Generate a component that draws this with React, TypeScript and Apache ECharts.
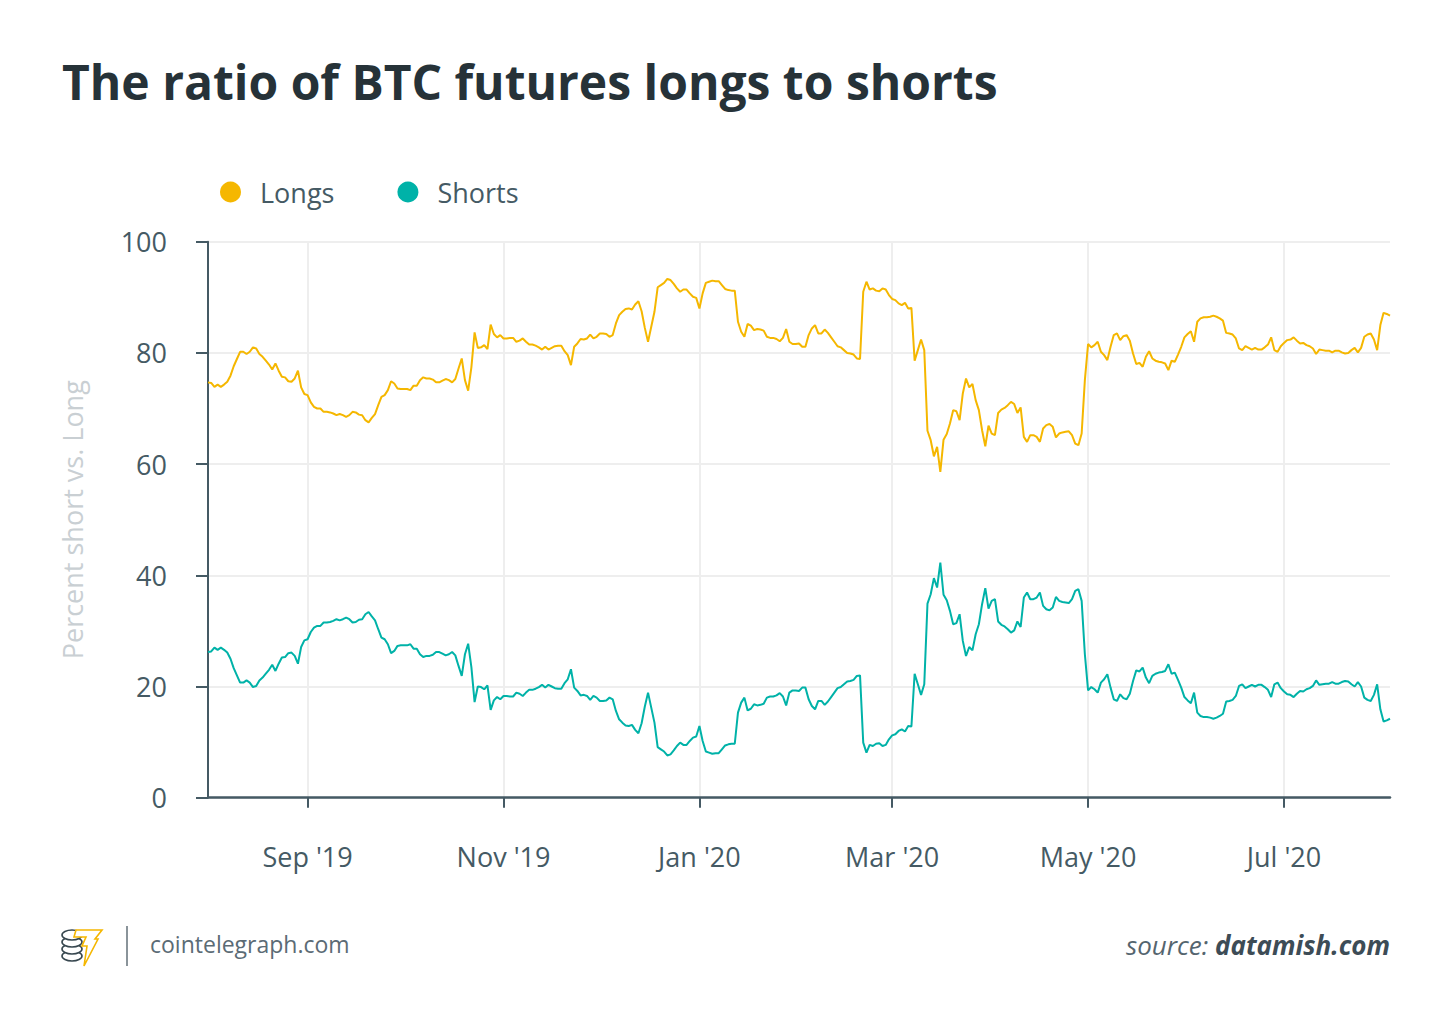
import React, { useEffect, useRef } from "react";
import * as echarts from "echarts";

// Daily readings starting 1 Aug 2019 (day 0) through 3 Aug 2020 (day 368)
const START_YEAR = 2019;
const START_MONTH = 7; // August (0-based)
const START_DAY = 1;

const longs: number[] = [
  74.7, 74.6, 73.9, 74.3, 73.9, 74.3, 74.8, 75.9, 77.6, 78.9,
  80.2, 80.2, 79.8, 80.2, 81.0, 80.8, 79.8, 79.3, 78.6, 77.9,
  77.0, 78.1, 76.8, 75.7, 75.6, 74.9, 74.8, 75.4, 76.8, 73.8,
  72.6, 72.4, 71.1, 70.3, 70.0, 70.0, 69.4, 69.4, 69.3, 69.1,
  68.8, 69.0, 68.8, 68.5, 68.8, 69.4, 69.3, 68.9, 68.8, 67.9,
  67.5, 68.3, 69.0, 70.6, 72.1, 72.4, 73.3, 74.9, 74.5, 73.6,
  73.5, 73.5, 73.5, 73.3, 74.1, 74.1, 75.1, 75.6, 75.4, 75.4,
  75.2, 74.7, 74.7, 75.0, 75.3, 75.1, 74.7, 75.3, 77.2, 79.0,
  75.1, 73.2, 77.4, 83.7, 80.9, 81.0, 81.4, 80.7, 85.1, 83.4,
  82.8, 83.2, 82.6, 82.6, 82.7, 82.7, 82.0, 82.2, 82.6, 82.0,
  81.5, 81.5, 81.3, 81.0, 80.6, 81.1, 80.6, 80.9, 81.2, 81.3,
  81.3, 80.3, 79.6, 77.8, 81.1, 81.7, 82.5, 82.4, 82.6, 83.3,
  82.6, 82.9, 83.5, 83.5, 83.4, 82.9, 83.2, 85.3, 86.8, 87.4,
  87.9, 88.0, 87.8, 88.7, 89.3, 87.5, 84.5, 82.0, 84.7, 87.4,
  91.8, 92.2, 92.6, 93.3, 93.1, 92.4, 91.6, 91.0, 91.4, 91.4,
  90.7, 90.1, 89.9, 88.0, 90.7, 92.6, 92.8, 93.0, 92.9, 92.9,
  92.2, 91.5, 91.3, 91.2, 91.2, 85.6, 83.8, 82.9, 85.2, 84.9,
  84.1, 84.3, 84.2, 84.0, 82.9, 82.7, 82.7, 82.5, 82.1, 82.7,
  84.3, 82.0, 81.6, 81.6, 81.7, 81.1, 81.1, 83.2, 84.4, 85.0,
  83.5, 83.5, 84.2, 83.6, 82.8, 82.0, 81.2, 81.0, 80.5, 80.0,
  79.9, 79.7, 79.0, 78.9, 91.0, 92.8, 91.4, 91.6, 91.2, 91.1,
  91.6, 91.4, 90.4, 89.7, 89.5, 88.9, 88.6, 89.0, 88.0, 88.1,
  78.6, 80.5, 82.4, 80.5, 66.0, 64.3, 61.4, 63.1, 58.6, 64.4,
  65.4, 67.3, 69.7, 69.5, 67.9, 72.7, 75.4, 73.8, 74.4, 71.5,
  69.7, 66.1, 63.2, 66.9, 65.5, 65.2, 69.2, 69.8, 70.1, 70.6,
  71.2, 70.8, 69.2, 70.2, 64.9, 64.0, 65.2, 65.2, 64.9, 64.0,
  66.4, 67.0, 67.2, 66.7, 64.8, 65.5, 65.7, 65.8, 65.9, 65.2,
  63.7, 63.4, 65.5, 75.1, 81.6, 81.0, 81.4, 82.0, 80.2, 79.6,
  78.7, 81.1, 83.2, 83.5, 82.3, 83.0, 83.2, 82.2, 79.9, 78.0,
  78.2, 77.5, 79.3, 80.3, 79.0, 78.6, 78.4, 78.3, 78.1, 76.9,
  78.6, 78.4, 79.7, 81.1, 82.8, 83.4, 83.9, 82.0, 85.6, 86.2,
  86.4, 86.4, 86.5, 86.7, 86.5, 86.2, 85.8, 83.6, 83.5, 83.3,
  82.6, 80.8, 80.5, 81.2, 80.9, 80.6, 80.9, 80.6, 80.6, 81.0,
  81.5, 82.8, 80.5, 80.2, 81.2, 81.8, 82.3, 82.4, 82.8, 82.2,
  81.7, 81.8, 81.4, 81.2, 80.8, 79.8, 80.6, 80.5, 80.4, 80.4,
  80.1, 80.4, 80.4, 80.1, 79.9, 80.0, 80.5, 80.9, 80.1, 80.9,
  82.9, 83.3, 83.5, 82.4, 80.5, 85.0, 87.2, 87.0, 86.7,
];

const shorts: number[] = [
  26.2, 26.3, 27.0, 26.6, 27.0, 26.6, 26.1, 25.0, 23.3, 22.0,
  20.7, 20.7, 21.1, 20.7, 19.9, 20.1, 21.1, 21.6, 22.3, 23.0,
  23.9, 22.8, 24.1, 25.2, 25.3, 26.0, 26.1, 25.5, 24.1, 27.1,
  28.3, 28.5, 29.8, 30.6, 30.9, 30.9, 31.5, 31.5, 31.6, 31.8,
  32.1, 31.9, 32.1, 32.4, 32.1, 31.5, 31.6, 32.0, 32.1, 33.0,
  33.4, 32.6, 31.9, 30.3, 28.8, 28.5, 27.6, 26.0, 26.4, 27.3,
  27.4, 27.4, 27.4, 27.6, 26.8, 26.8, 25.8, 25.3, 25.5, 25.5,
  25.7, 26.2, 26.2, 25.9, 25.6, 25.8, 26.2, 25.6, 23.7, 21.9,
  25.8, 27.7, 23.5, 17.2, 20.0, 19.9, 19.5, 20.2, 15.8, 17.5,
  18.1, 17.7, 18.3, 18.3, 18.2, 18.2, 18.9, 18.7, 18.3, 18.9,
  19.4, 19.4, 19.6, 19.9, 20.3, 19.8, 20.3, 20.0, 19.7, 19.6,
  19.6, 20.6, 21.3, 23.1, 19.8, 19.2, 18.4, 18.5, 18.3, 17.6,
  18.3, 18.0, 17.4, 17.4, 17.5, 18.0, 17.7, 15.6, 14.1, 13.5,
  13.0, 12.9, 13.1, 12.2, 11.6, 13.4, 16.4, 18.9, 16.2, 13.5,
  9.1, 8.7, 8.3, 7.6, 7.8, 8.5, 9.3, 9.9, 9.5, 9.5,
  10.2, 10.8, 11.0, 12.9, 10.2, 8.3, 8.1, 7.9, 8.0, 8.0,
  8.7, 9.4, 9.6, 9.7, 9.7, 15.3, 17.1, 18.0, 15.7, 16.0,
  16.8, 16.6, 16.7, 16.9, 18.0, 18.2, 18.2, 18.4, 18.8, 18.2,
  16.6, 18.9, 19.3, 19.3, 19.2, 19.8, 19.8, 17.7, 16.5, 15.9,
  17.4, 17.4, 16.7, 17.3, 18.1, 18.9, 19.7, 19.9, 20.4, 20.9,
  21.0, 21.2, 21.9, 22.0, 9.9, 8.1, 9.5, 9.3, 9.7, 9.8,
  9.3, 9.5, 10.5, 11.2, 11.4, 12.0, 12.3, 11.9, 12.9, 12.8,
  22.3, 20.4, 18.5, 20.4, 34.9, 36.6, 39.5, 37.8, 42.3, 36.5,
  35.5, 33.6, 31.2, 31.4, 33.0, 28.2, 25.5, 27.1, 26.5, 29.4,
  31.2, 34.8, 37.7, 34.0, 35.4, 35.7, 31.7, 31.1, 30.8, 30.3,
  29.7, 30.1, 31.7, 30.7, 36.0, 36.9, 35.7, 35.7, 36.0, 36.9,
  34.5, 33.9, 33.7, 34.2, 36.1, 35.4, 35.2, 35.1, 35.0, 35.7,
  37.2, 37.5, 35.4, 25.8, 19.3, 19.9, 19.5, 18.9, 20.7, 21.3,
  22.2, 19.8, 17.7, 17.4, 18.6, 17.9, 17.7, 18.7, 21.0, 22.9,
  22.7, 23.4, 21.6, 20.6, 21.9, 22.3, 22.5, 22.6, 22.8, 24.0,
  22.3, 22.5, 21.2, 19.8, 18.1, 17.5, 17.0, 18.9, 15.3, 14.7,
  14.5, 14.5, 14.4, 14.2, 14.4, 14.7, 15.1, 17.3, 17.4, 17.6,
  18.3, 20.1, 20.4, 19.7, 20.0, 20.3, 20.0, 20.3, 20.3, 19.9,
  19.4, 18.1, 20.4, 20.7, 19.7, 19.1, 18.6, 18.5, 18.1, 18.7,
  19.2, 19.1, 19.5, 19.7, 20.1, 21.1, 20.3, 20.4, 20.5, 20.5,
  20.8, 20.5, 20.5, 20.8, 21.0, 20.9, 20.4, 20.0, 20.8, 20.0,
  18.0, 17.6, 17.4, 18.5, 20.4, 15.9, 13.7, 13.9, 14.2,
];

const tickDates: [number, number, number][] = [
  [2019, 9, 1],
  [2019, 11, 1],
  [2020, 1, 1],
  [2020, 3, 1],
  [2020, 5, 1],
  [2020, 7, 1],
];
const monthNames = ["Jan", "Feb", "Mar", "Apr", "May", "Jun", "Jul", "Aug", "Sep", "Oct", "Nov", "Dec"];
const yMin = 0;
const yMax = 100;
const yInterval = 20;

const TITLE = "The ratio of BTC futures longs to shorts";
const Y_NAME = "Percent short vs. Long";

const FONT = "'Open Sans', 'Noto Sans', sans-serif";
const AXIS_COLOR = "#455a64";
const LONG_COLOR = "#f5b700";
const SHORT_COLOR = "#00b2a8";

function dayTs(i: number): number {
  return new Date(START_YEAR, START_MONTH, START_DAY + i).getTime();
}

export default function App() {
  const ref = useRef<HTMLDivElement>(null);

  useEffect(() => {
    if (!ref.current) return;
    const chart = echarts.init(ref.current, undefined, { renderer: "svg" });
    const longData = longs.map((v, i) => [dayTs(i), v]);
    const shortData = shorts.map((v, i) => [dayTs(i), v]);
    const tickValues = tickDates.map(([y, m, d]) => new Date(y, m - 1, d).getTime());

    chart.setOption({
      animation: false,
      backgroundColor: "#ffffff",
      textStyle: { fontFamily: FONT },
      grid: { left: 208, right: 60, top: 241.7, bottom: 228.3 },
      legend: {
        left: 215,
        top: 172,
        icon: "circle",
        itemWidth: 21,
        itemHeight: 21,
        itemGap: 63,
        data: ["Longs", "Shorts"],
        textStyle: {
          fontFamily: FONT,
          fontSize: 27,
          color: AXIS_COLOR,
          lineHeight: 30,
          padding: [0, 0, 0, 14],
        },
      },
      xAxis: {
        type: "value",
        min: dayTs(0),
        max: dayTs(longs.length - 1),
        axisLine: { show: true, onZero: false, lineStyle: { color: AXIS_COLOR, width: 2.5 } },
        axisTick: {
          show: true,
          customValues: tickValues,
          length: 10,
          lineStyle: { color: AXIS_COLOR, width: 2 },
        },
        axisLabel: {
          customValues: tickValues,
          margin: 45,
          fontFamily: FONT,
          fontSize: 27,
          lineHeight: 27,
          color: AXIS_COLOR,
          showMinLabel: true,
          showMaxLabel: true,
          formatter: (v: number) => {
            const d = new Date(v);
            return monthNames[d.getMonth()] + " '" + String(d.getFullYear()).slice(2);
          },
        },
        splitLine: { show: true, lineStyle: { color: "#eeeeee", width: 2 } },
      },
      yAxis: {
        type: "value",
        min: yMin,
        max: yMax,
        interval: yInterval,
        name: Y_NAME,
        nameLocation: "middle",
        nameGap: 122,
        nameTextStyle: { fontFamily: FONT, fontSize: 27, color: "#c9cfd3" },
        axisLine: { show: true, lineStyle: { color: AXIS_COLOR, width: 2 } },
        axisTick: { show: true, length: 12, lineStyle: { color: AXIS_COLOR, width: 2 } },
        axisLabel: {
          margin: 41,
          fontFamily: FONT,
          fontSize: 27,
          color: AXIS_COLOR,
          padding: [0, 0, 4, 0],
        },
        splitLine: { show: true, lineStyle: { color: "#eeeeee", width: 2 } },
      },
      series: [
        {
          name: "Longs",
          type: "line",
          data: longData,
          showSymbol: false,
          symbol: "none",
          color: LONG_COLOR,
          lineStyle: { color: LONG_COLOR, width: 2 },
          z: 3,
        },
        {
          name: "Shorts",
          type: "line",
          data: shortData,
          showSymbol: false,
          symbol: "none",
          color: SHORT_COLOR,
          lineStyle: { color: SHORT_COLOR, width: 2 },
          z: 3,
        },
      ],
      graphic: [
        {
          type: "text",
          x: 62,
          y: 81,
          style: {
            text: TITLE,
            font: "bold 48px 'Open Sans', sans-serif",
            fill: "#263238",
            textAlign: "left",
            textVerticalAlign: "middle",
          },
        },
        { type: "ellipse", shape: { cx: 72, cy: 956, rx: 10, ry: 5 }, style: { fill: "#fff", stroke: "#37474f", lineWidth: 1.6 } },
        { type: "ellipse", shape: { cx: 72, cy: 949, rx: 10, ry: 5 }, style: { fill: "#fff", stroke: "#37474f", lineWidth: 1.6 } },
        { type: "ellipse", shape: { cx: 72, cy: 942, rx: 10, ry: 5 }, style: { fill: "#fff", stroke: "#37474f", lineWidth: 1.6 } },
        { type: "ellipse", shape: { cx: 72, cy: 935, rx: 10, ry: 5 }, style: { fill: "#fff", stroke: "#37474f", lineWidth: 1.6 } },
        {
          type: "polygon",
          shape: {
            points: [
              [76, 930], [102, 930], [95, 939], [98, 939], [84, 966], [87, 946], [82, 946], [86, 937], [74, 937],
            ],
          },
          style: { fill: "#fff", stroke: "#f5b700", lineWidth: 1.6 },
        },
        {
          type: "line",
          shape: { x1: 127, y1: 926, x2: 127, y2: 966 },
          style: { stroke: "#8a949a", lineWidth: 2 },
        },
        {
          type: "text",
          x: 150,
          y: 944,
          style: {
            text: "cointelegraph.com",
            font: "23px 'Open Sans', sans-serif",
            fill: "#5b6b75",
            textAlign: "left",
            textVerticalAlign: "middle",
          },
        },
        {
          type: "text",
          x: 1390,
          y: 945,
          style: {
            text: "{a|source: }{b|datamish.com}",
            textAlign: "right",
            textVerticalAlign: "middle",
            rich: {
              a: {
                fontFamily: FONT,
                fontSize: 26,
                fontStyle: "italic",
                fontWeight: "normal",
                fill: "#55656f",
              },
              b: {
                fontFamily: FONT,
                fontSize: 26,
                fontStyle: "italic",
                fontWeight: "bold",
                fill: "#3d4c56",
              },
            },
          },
        },
      ],
    });

    return () => chart.dispose();
  }, []);

  return (
    <div
      ref={ref}
      style={{ position: "fixed", left: 0, top: 0, width: 1450, height: 1026, background: "#fff" }}
    />
  );
}
